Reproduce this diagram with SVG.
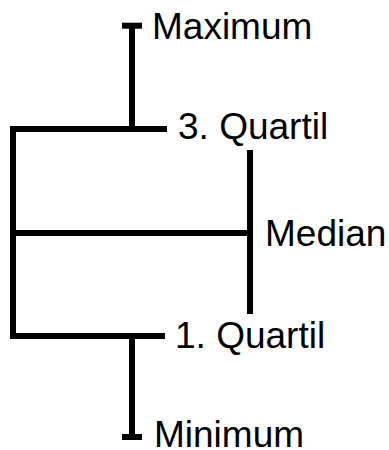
<svg xmlns="http://www.w3.org/2000/svg" width="389" height="450" viewBox="0 0 389 450">
<style>
.ln{stroke:#000;stroke-width:6;fill:none;stroke-linecap:butt}
.lb{font-family:"Liberation Sans",Arial,sans-serif;font-size:37px;fill:#000}
</style>
<rect width="389" height="450" fill="#fff"/>
<g id="connectors">
<path class="ln" d="M132,129 V23"/>
<path class="ln" d="M122,25.7 H142"/>
<path class="ln" d="M167,129 H13 V336 H165"/>
<path class="ln" d="M13,233 H250"/>
<path class="ln" d="M250,150 V314"/>
<path class="ln" d="M132,336 V440"/>
<path class="ln" d="M122,437 H142"/>
</g>
<g id="maximum"><text class="lb" x="152" y="39">Maximum</text></g>
<g id="q3"><text class="lb" x="178" y="139">3. Quartil</text></g>
<g id="median"><text class="lb" x="265" y="246">Median</text></g>
<g id="q1"><text class="lb" x="175" y="348">1. Quartil</text></g>
<g id="minimum"><text class="lb" x="154" y="447">Minimum</text></g>
</svg>
